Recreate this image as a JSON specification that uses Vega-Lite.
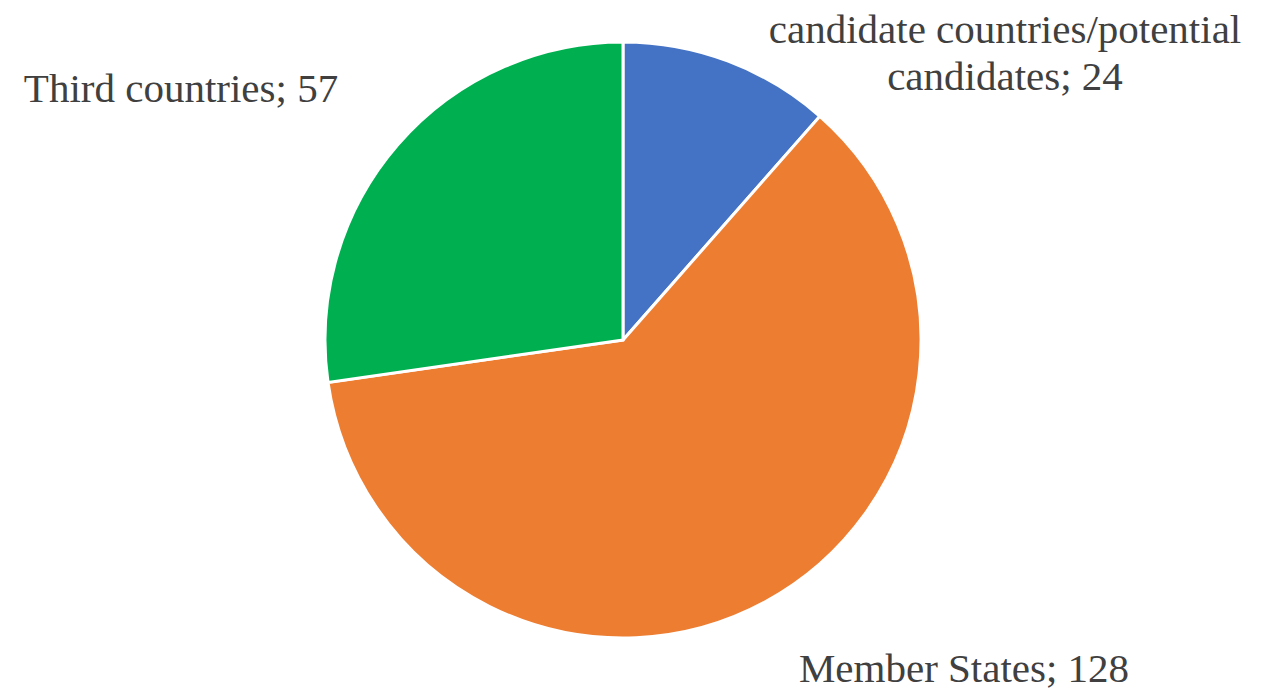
{
  "$schema": "https://vega.github.io/schema/vega-lite/v6.json",
  "width": 1246,
  "height": 680,
  "autosize": "none",
  "padding": {"left": 0, "top": 0, "right": 20, "bottom": 19},
  "background": "white",
  "view": {"stroke": null},
  "data": {
    "values": [
      {"category": "candidate countries/potential candidates", "value": 24, "seq": 1},
      {"category": "Member States", "value": 128, "seq": 2},
      {"category": "Third countries", "value": 57, "seq": 3}
    ]
  },
  "layer": [
    {
      "mark": {"type": "arc", "outerRadius": 298, "stroke": "white", "strokeWidth": 3},
      "encoding": {
        "theta": {"field": "value", "type": "quantitative", "stack": true},
        "order": {"field": "seq", "type": "quantitative"},
        "color": {
          "field": "category",
          "type": "nominal",
          "scale": {
            "domain": ["candidate countries/potential candidates", "Member States", "Third countries"],
            "range": ["#4472C4", "#ED7D31", "#00B050"]
          },
          "legend": null
        }
      }
    },
    {
      "transform": [{"filter": "datum.category == 'Third countries'"}],
      "mark": {"type": "text", "font": "Liberation Serif", "fontSize": 41, "color": "#404040", "align": "center", "baseline": "alphabetic", "dx": -442, "dy": -238},
      "encoding": {"text": {"value": "Third countries; 57"}}
    },
    {
      "transform": [{"filter": "datum.category == 'Member States'"}],
      "mark": {"type": "text", "font": "Liberation Serif", "fontSize": 41, "color": "#404040", "align": "center", "baseline": "alphabetic", "dx": 341, "dy": 342},
      "encoding": {"text": {"value": "Member States; 128"}}
    },
    {
      "transform": [{"filter": "datum.category == 'candidate countries/potential candidates'"}],
      "mark": {"type": "text", "font": "Liberation Serif", "fontSize": 41, "color": "#404040", "align": "center", "baseline": "alphabetic", "lineHeight": 47, "dx": 382, "dy": -297},
      "encoding": {"text": {"value": ["candidate countries/potential", "candidates; 24"]}}
    }
  ]
}
